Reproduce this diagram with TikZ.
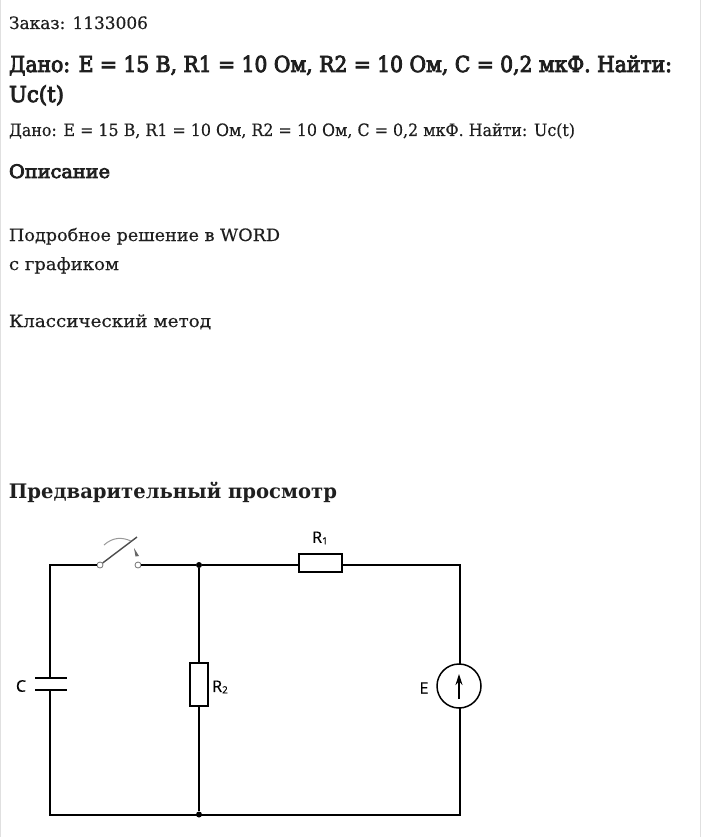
\documentclass[tikz,border=0pt]{standalone}
\usepackage{fontspec}
\usepackage{graphicx}
\setmainfont{DejaVu Serif}
\newfontfamily\slab[FakeBold=0.4]{DejaVu Serif}
\newfontfamily\slabm[FakeBold=4]{DejaVu Serif}
\newfontfamily\lab[FakeBold=0.4]{Open Sans}
\newcommand{\fitw}[2]{\resizebox{#1pt}{\height}{#2}}
\newcommand{\smallsub}[1]{\raisebox{-1.5pt}{\fontsize{10}{12}\selectfont #1}}
\usetikzlibrary{arrows.meta}
\tikzset{
  txt/.style={anchor=base west,inner sep=0pt,outer sep=0pt,text=black!88},
  body/.style={txt,font=\slab\fontsize{17}{20}\selectfont},
  head/.style={txt,font=\slabm\fontsize{22}{26}\selectfont},
  sub/.style={txt,font=\slabm\fontsize{18.5}{22}\selectfont},
  prevhead/.style={txt,font=\rmfamily\bfseries\fontsize{20}{25}\selectfont},
  wire/.style={line width=1.7pt,black},
  res/.style={draw=black,line width=1.7pt,fill=white,inner sep=0pt,minimum width=#1,rectangle},
  lbl/.style={inner sep=0pt,font=\lab\fontsize{16}{18}\selectfont,text=black},
  dot/.style={circle,fill=black,inner sep=0pt,minimum size=6pt},
  term/.style={circle,draw=black!55,fill=white,line width=.8pt,inner sep=0pt,minimum size=6pt},
}
\begin{document}
\begin{tikzpicture}[x=1pt,y=-1pt]
\useasboundingbox (0,0) rectangle (701,837);
\fill[white] (0,0) rectangle (701,837);
\draw[black!12,line width=1pt] (.5,0) -- (.5,837) (700.5,0) -- (700.5,837);

\node[body] (order) at (9,29) {\fitw{139}{Заказ: 1133006}};
\node[head] (title1) at (9,72) {\fitw{663}{Дано: E = 15 В, R1 = 10 Ом, R2 = 10 Ом, С = 0,2 мкФ. Найти:}};
\node[head] (title2) at (9,102) {\fitw{55}{Uc(t)}};
\node[body] (given) at (9,136) {\fitw{566}{Дано: E = 15 В, R1 = 10 Ом, R2 = 10 Ом, С = 0,2 мкФ. Найти: Uc(t)}};
\node[sub] (descr) at (9,178) {\fitw{101}{Описание}};
\node[body] (l1) at (9,241) {\fitw{271}{Подробное решение в WORD}};
\node[body] (l2) at (9,270) {\fitw{110}{с графиком}};
\node[body] (l3) at (9,327) {\fitw{202}{Классический метод}};
\node[prevhead] (prev) at (9,498) {\fitw{328}{Предварительный просмотр}};

\coordinate (tl) at (50,565);
\coordinate (tr) at (460,565);
\coordinate (br) at (460,815);
\coordinate (bl) at (50,815);
\coordinate (cu) at (50,678);
\coordinate (cd) at (50,690);
\node[dot] (jt) at (199,565) {};
\node[dot] (jb) at (199,814.5) {};
\node[term] (s1) at (100,565) {};
\node[term] (s2) at (138,565) {};
\node[res=43pt,minimum height=18pt] (r1) at (320.5,563) {};
\node[res=18pt,minimum height=43pt] (r2) at (199,684.5) {};
\node[circle,draw=black,line width=1.5pt,inner sep=0pt,minimum size=44pt] (e) at (459,686) {};
\coordinate (ea) at (459,699);
\coordinate (eb) at (459,674);
\coordinate (capl1) at (35,678);
\coordinate (capr1) at (67,678);
\coordinate (capl2) at (35,690);
\coordinate (capr2) at (67,690);
\coordinate (etop) at (460,664);
\coordinate (ebot) at (460,708);

\draw[wire] (s1) -- (tl) -- (cu);
\draw[wire] (cd) -- (bl) -- (br) -- (ebot);
\draw[wire] (s2) -- (jt) -- (r1.west |- jt);
\draw[wire] (r1.east |- tr) -- (tr) -- (etop);
\draw[wire] (jt) -- (r2);
\draw[wire] (r2) -- (jb);
\draw[wire] (capl1) -- (capr1);
\draw[wire] (capl2) -- (capr2);

\coordinate (bladeend) at (137,537);
\draw[black!70,line width=1.4pt] (s1) -- (bladeend);
\draw[black!40,line width=1pt] (104,545) .. controls (113,537) and (122,537) .. (131,541);
\fill[black!60] (134,548) -- (139,556) -- (135.5,556.5) -- cycle;

\draw[black,line width=1.2pt,-{Stealth[length=11pt,width=7pt]}] (ea) -- (eb);

\node[lbl] (lc) at (21,686) {C};
\node[lbl] (lr2) at (220,687) {R\smallsub{2}};
\node[lbl] (lr1) at (320,538) {R\smallsub{1}};
\node[lbl] (le) at (424,688) {E};
\end{tikzpicture}
\end{document}
